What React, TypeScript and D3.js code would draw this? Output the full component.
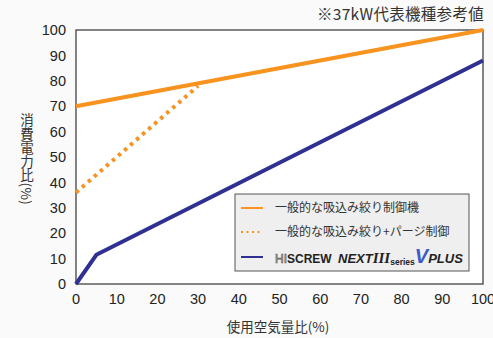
import React from "react";
import * as d3 from "d3";

const xTicks = [0, 10, 20, 30, 40, 50, 60, 70, 80, 90, 100];
const yTicks = [0, 10, 20, 30, 40, 50, 60, 70, 80, 90, 100];

const generalX = [0, 100];
const generalY = [70, 100];
const purgeX = [0, 30];
const purgeY = [36, 78];
const nextX = [0, 5, 100];
const nextY = [0, 11.5, 88];

const legendLabels = ["一般的な吸込み絞り制御機", "一般的な吸込み絞り+パージ制御"];
const title = "※37kW代表機種参考値";
const xLabel = "使用空気量比(%)";
const yLabel = "消費電力比(%)";

const W = 493, H = 338;
const M = { left: 76, right: 483, top: 30, bottom: 284 };
const ORANGE = "#f7931e";
const NAVY = "#2e3192";
const NUM_FONT = "'Liberation Sans', Arial, sans-serif";
const JP_FONT = "'Noto Sans CJK JP', 'Noto Sans', sans-serif";

export default function App() {
  const x = d3.scaleLinear().domain([0, 100]).range([M.left, M.right]);
  const y = d3.scaleLinear().domain([0, 100]).range([M.bottom, M.top]);
  const line = d3.line<[number, number]>().x(d => x(d[0])).y(d => y(d[1]));
  const zip = (a: number[], b: number[]) => a.map((v, i) => [v, b[i]] as [number, number]);

  const lx = 235, ly = 194, lw = 234, lh = 77;
  const rows = [208, 232, 257];

  return (
    <svg width={W} height={H} style={{ position: "fixed", left: 0, top: 0 }}>
      <rect x={0} y={0} width={W} height={H} fill="#fafafa" />
      <rect x={M.left} y={M.top} width={M.right - M.left} height={M.bottom - M.top} fill="#ffffff" stroke="#333" strokeWidth={1.2} />
      <path d={line(zip(generalX, generalY)) || ""} fill="none" stroke={ORANGE} strokeWidth={4} />
      <path d={line(zip(purgeX, purgeY)) || ""} fill="none" stroke={ORANGE} strokeWidth={4} strokeDasharray="3.5 4.5" />
      <path d={line(zip(nextX, nextY)) || ""} fill="none" stroke={NAVY} strokeWidth={4} strokeLinejoin="round" />
      {yTicks.map(t => (
        <text key={"y" + t} x={66} y={y(t)} dy="0.36em" textAnchor="end" fontFamily={NUM_FONT} fontSize={14.5} fill="#222">{t}</text>
      ))}
      {xTicks.map(t => (
        <text key={"x" + t} x={x(t)} y={304} textAnchor="middle" fontFamily={NUM_FONT} fontSize={14.5} fill="#222">{t}</text>
      ))}
      <text x={484} y={20} textAnchor="end" fontFamily={JP_FONT} fontSize={15.5} letterSpacing={0.3} fill="#333">{title}</text>
      <text x={278} y={332} textAnchor="middle" fontFamily={JP_FONT} fontSize={13.5} fill="#333">{xLabel}</text>
      <text x={27} y={113} fontFamily={JP_FONT} fontSize={13.5} letterSpacing={0.4} fill="#333" style={{ writingMode: "vertical-rl" } as any}>{yLabel}</text>
      <g>
        <rect x={lx} y={ly} width={lw} height={lh} fill="#efefef" stroke="#555" strokeWidth={1} />
        <line x1={241} x2={263} y1={rows[0]} y2={rows[0]} stroke={ORANGE} strokeWidth={2} />
        <line x1={241} x2={263} y1={rows[1]} y2={rows[1]} stroke={ORANGE} strokeWidth={2} strokeDasharray="2 3.5" />
        <line x1={241} x2={263} y1={rows[2]} y2={rows[2]} stroke={NAVY} strokeWidth={2} />
        {legendLabels.map((l, i) => (
          <text key={l} x={275} y={rows[i]} dy="0.36em" fontFamily={JP_FONT} fontSize={12} fill="#333">{l}</text>
        ))}
        <text x={275} y={rows[2]} dy="0.36em" fontFamily={NUM_FONT} fill="#222">
          <tspan fontSize={12} fill="#eee" stroke="#555" strokeWidth={0.7}>HI</tspan>
          <tspan fontSize={12} fontWeight="bold">SCREW </tspan>
          <tspan fontSize={13} fontWeight="bold" fontStyle="italic" dx={3}>NEXT</tspan>
          <tspan fontSize={15} fontWeight="bold" fontStyle="italic" fontFamily="'Liberation Serif', serif">III</tspan>
          <tspan fontSize={8.5} fontWeight="bold" dy={2}>series</tspan>
          <tspan fontSize={20} fontWeight="bold" fontStyle="italic" fill="#3a5bc7" dy={-2}>V</tspan>
          <tspan fontSize={13} fontWeight="bold" fontStyle="italic">PLUS</tspan>
        </text>
      </g>
    </svg>
  );
}
